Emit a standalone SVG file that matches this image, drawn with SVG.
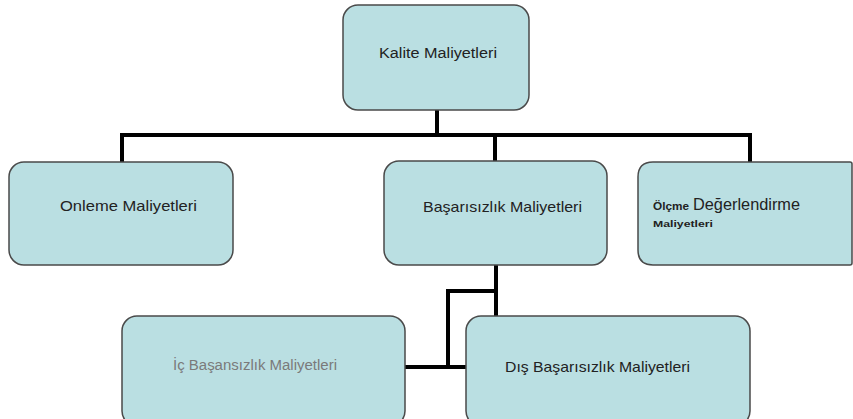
<svg xmlns="http://www.w3.org/2000/svg" width="853" height="419" viewBox="0 0 853 419">
<style>
.box{fill:#BADFE2;stroke:#4a4a4a;stroke-width:1.5}
.t{font-family:"Liberation Sans",Arial,sans-serif;fill:#222}
.c{fill:none;stroke:#000;stroke-width:4;stroke-linejoin:miter}
</style>
<rect width="853" height="419" fill="#fff"/>
<g id="connectors">
<path class="c" d="M437 110V135M122 162V135H750V162M495 135V161"/>
<path class="c" d="M496 265V316M496 291H448V367M405 367H467"/>
</g>
<g id="kalite">
<rect class="box" x="343" y="5" width="186" height="105" rx="15"/>
<text class="t" x="438" y="58" font-size="14" text-anchor="middle" textLength="118" lengthAdjust="spacingAndGlyphs">Kalite Maliyetleri</text>
</g>
<g id="onleme">
<rect class="box" x="9" y="162" width="224" height="103" rx="15"/>
<text class="t" x="60" y="211" font-size="15" textLength="137" lengthAdjust="spacingAndGlyphs">Onleme Maliyetleri</text>
</g>
<g id="basarisizlik">
<rect class="box" x="384" y="161" width="223" height="104" rx="15"/>
<text class="t" x="423" y="212" font-size="15" textLength="159" lengthAdjust="spacingAndGlyphs">Başarısızlık Maliyetleri</text>
</g>
<g id="olcme">
<path class="box" d="M653 162H850Q852 162 852 164V263Q852 265 850 265H653Q638 265 638 250V177Q638 162 653 162Z"/>
<text class="t" x="653" y="210" font-size="10" font-weight="bold" textLength="36" lengthAdjust="spacingAndGlyphs">Ölçme</text>
<text class="t" x="693" y="210" font-size="16" textLength="107" lengthAdjust="spacingAndGlyphs">Değerlendirme</text>
<text class="t" x="653" y="227" font-size="9" font-weight="bold" textLength="60" lengthAdjust="spacingAndGlyphs">Maliyetleri</text>
</g>
<g id="ic">
<rect class="box" x="122" y="316" width="283" height="110" rx="15"/>
<text class="t" x="173" y="370" font-size="14" fill="#777" style="fill:#7a7a7a" textLength="164" lengthAdjust="spacingAndGlyphs">İç Başansızlık Maliyetleri</text>
</g>
<g id="dis">
<rect class="box" x="466" y="316" width="284" height="110" rx="15"/>
<text class="t" x="505" y="372" font-size="15" textLength="185" lengthAdjust="spacingAndGlyphs">Dış Başarısızlık Maliyetleri</text>
</g>
</svg>
